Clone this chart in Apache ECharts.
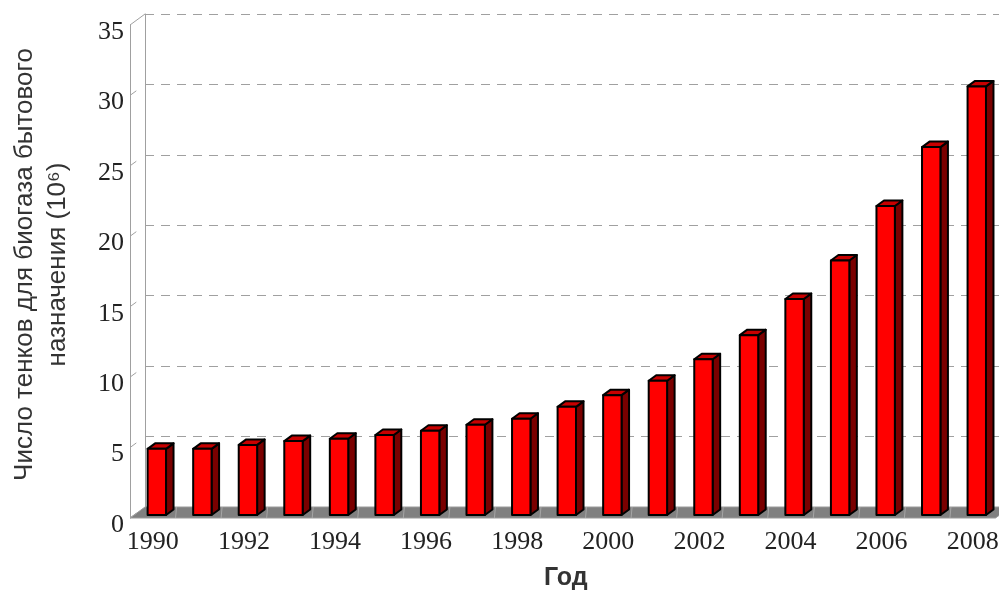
<!DOCTYPE html>
<html><head><meta charset="utf-8">
<script src="https://cdn.jsdelivr.net/npm/echarts@6/dist/echarts.min.js"></script>
<style>html,body{margin:0;padding:0;background:#fff}#c{width:999px;height:591px}</style>
</head><body><div id="c"></div>
<script>
// ---- data ----
const years = ['1990','1991','1992','1993','1994','1995','1996','1997','1998','1999',
               '2000','2001','2002','2003','2004','2005','2006','2007','2008'];
const digesters = [4.70, 4.70, 4.98, 5.25, 5.42, 5.68, 5.98, 6.41, 6.84, 7.68,
                   8.51, 9.53, 11.06, 12.77, 15.34, 18.07, 21.94, 26.12, 30.43];
const yTicks = [0, 5, 10, 15, 20, 25, 30, 35];
const yTitle = 'Число тенков для биогаза бытового\nназначения (10\u2076)';
const xTitle = 'Год';

// ---- pseudo-3D geometry (style) ----
const DX = 15, DY = -11;      // full depth offset of the box
const F0 = 0.27, F1 = 0.77;   // bar front / back depth fraction
const BAR = 0.404;            // bar width as part of band

const chart = echarts.init(document.getElementById('c'), null, {renderer:'canvas'});

function renderFloor(params, api){
  const i = api.value(0);
  const p = api.coord([i, 0]);
  const bw = api.size([1, 0])[0];
  const cs = params.coordSys;
  const children = [];
  if (params.dataIndex === 0) {
    const y = cs.y + cs.height, x0 = cs.x, x1 = cs.x + cs.width;
    children.push({type:'polygon', z2:0, shape:{points:[[x0,y],[x1,y],[x1+DX,y+DY],[x0+DX,y+DY]]},
      style:{fill:'#808080', stroke:'#9a9a9a', lineWidth:1}});
  }
  const xb = p[0] - bw/2;
  if (params.dataIndex > 0) {
    children.push({type:'line', z2:1, shape:{x1:xb, y1:p[1], x2:xb+1, y2:p[1]+DY},
      style:{stroke:'#a6a6a6', lineWidth:1}});
  }
  return {type:'group', children};
}

function renderTick(params, api){
  const v = api.value(1);
  const y = api.coord([0, v])[1];
  const x = params.coordSys.x;
  const f = (v === yTicks[yTicks.length-1]) ? 1 : 0.42;
  return {type:'line', shape:{x1:x, y1:y, x2:x+DX*f, y2:y+DY*f},
          style:{stroke:'#a0a0a0', lineWidth:1}};
}

function renderBar(params, api){
  const i = api.value(0), v = api.value(1);
  const base = api.coord([i, 0]), top = api.coord([i, v]);
  const bw = api.size([1, 0])[0] * BAR;
  const fx = DX*F0, fy = DY*F0, d = F1 - F0;
  const xl = base[0] - bw/2 + fx, xr = base[0] + bw/2 + fx;
  const yb = base[1] + fy, yt = top[1] + fy;
  const ddx = DX*d, ddy = DY*d;
  const st = {stroke:'#000', lineWidth:2, lineJoin:'round'};
  return {type:'group', children:[
    {type:'polygon', shape:{points:[[xr,yb],[xr+ddx,yb+ddy],[xr+ddx,yt+ddy],[xr,yt]]},
      style:Object.assign({fill:'#7a0000'}, st)},
    {type:'polygon', shape:{points:[[xl,yt],[xl+ddx,yt+ddy],[xr+ddx,yt+ddy],[xr,yt]]},
      style:Object.assign({fill:'#c80000'}, st)},
    {type:'rect', shape:{x:xl, y:yt, width:xr-xl, height:yb-yt},
      style:Object.assign({fill:'#ff0000'}, st)}
  ]};
}

const option = {
  animation:false,
  backgroundColor:'#fff',
  grid:[
    {left:130, top:25, width:865.5, height:493, outerBoundsMode:'none', containLabel:false},
    {left:145, top:14, width:865.5, height:493, outerBoundsMode:'none', containLabel:false}
  ],
  xAxis:[
    {type:'category', gridIndex:0, data:years,
     axisLine:{show:false}, axisTick:{show:false}, splitLine:{show:false},
     axisLabel:{interval:1, fontFamily:'Liberation Serif', fontSize:26, color:'#222', margin:11},
     name:xTitle, nameLocation:'middle', nameGap:48,
     nameTextStyle:{fontFamily:'Liberation Sans', fontWeight:'bold', fontSize:25, color:'#333', padding:[0,0,0,6]}},
    {type:'category', gridIndex:1, data:years, position:'top',
     axisLine:{show:true, lineStyle:{color:'#a0a0a0', width:1}}, axisTick:{show:false},
     axisLabel:{show:false}, splitLine:{show:false}}
  ],
  yAxis:[
    {type:'value', gridIndex:0, min:0, max:35, interval:5,
     axisLine:{show:true, lineStyle:{color:'#a0a0a0', width:1}}, axisTick:{show:false},
     splitLine:{show:false},
     axisLabel:{fontFamily:'Liberation Serif', fontSize:26, color:'#222', margin:6,
                verticalAlign:'top', lineHeight:14},
     name:yTitle, nameLocation:'middle', nameRotate:90, nameGap:56,
     nameTextStyle:{fontFamily:'Liberation Sans, DejaVu Sans', fontSize:26, color:'#333', lineHeight:33, align:'center', padding:[0,0,0,14]}},
    {type:'value', gridIndex:1, min:0, max:35, interval:5,
     axisLine:{show:true, lineStyle:{color:'#a0a0a0', width:1}}, axisTick:{show:false},
     axisLabel:{show:false},
     splitLine:{show:true, lineStyle:{color:'#a0a0a0', width:1, type:[9,7]}}}
  ],
  series:[
    {type:'custom', name:'floor', xAxisIndex:0, yAxisIndex:0, z:2,
     renderItem:renderFloor, data:years.map((y, i) => [i, 0]), silent:true},
    {type:'custom', name:'ticks', xAxisIndex:0, yAxisIndex:0, z:2,
     renderItem:renderTick, data:yTicks.map(v => [0, v]), silent:true},
    {type:'custom', name:'digesters', xAxisIndex:0, yAxisIndex:0, z:3,
     renderItem:renderBar, data:digesters.map((v, i) => [i, v])}
  ]
};
chart.setOption(option);
</script>
</body></html>
